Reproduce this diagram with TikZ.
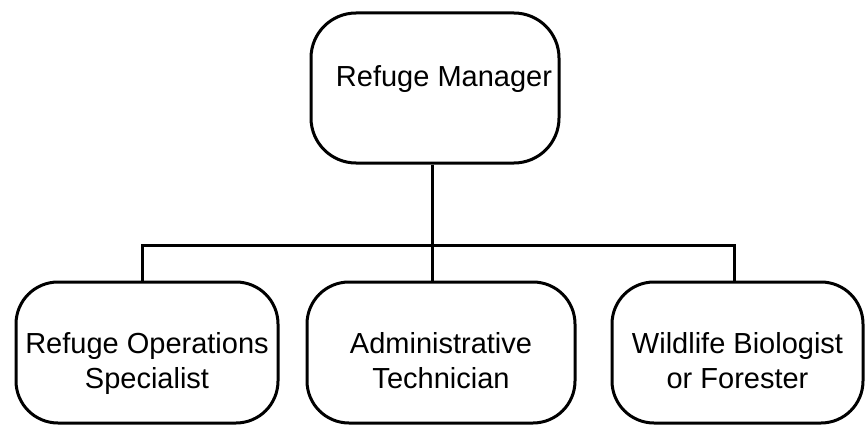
\documentclass[tikz,border=0pt]{standalone}
\usepackage{fontspec}
\setmainfont{Liberation Sans}

\begin{document}
\begin{tikzpicture}[x=1pt, y=-1pt,
    role/.style={draw, line width=3pt, rounded corners=42pt, inner sep=0pt,
        align=center, minimum height=141pt, font=\fontsize{29}{35}\selectfont},
    link/.style={line width=3pt}]

    % Fix the size of the page
    \useasboundingbox (0,0) rectangle (865,428);

    % Draw the box of the manager at the top
    \node[role, minimum width=248pt, minimum height=150pt, rounded corners=45pt,
        text depth=23pt] (mgr) at (435,88) {\hspace*{18pt}Refuge Manager};

    % Draw the three boxes of the staff
    \node[role, minimum width=262pt, text height=77pt, text depth=6pt] (ops)
        at (147,352.5) {Refuge Operations\\Specialist};
    \node[role, minimum width=268pt, text height=77pt, text depth=6pt] (admin)
        at (441,352.5) {Administrative\\Technician};
    \node[role, minimum width=251pt, text height=77pt, text depth=6pt] (bio)
        at (737.5,352.5) {Wildlife Biologist\\or Forester};

    % Points where the lines meet the bar
    \coordinate (busL) at (142,245);
    \coordinate (busM) at (432,245);
    \coordinate (busR) at (734,245);

    % Connect the boxes
    \draw[link] (busM |- mgr.south) -- (busM |- admin.north);
    \draw[link] (busL |- ops.north) -- (busL) -- (busR) -- (busR |- bio.north);

\end{tikzpicture}
\end{document}
